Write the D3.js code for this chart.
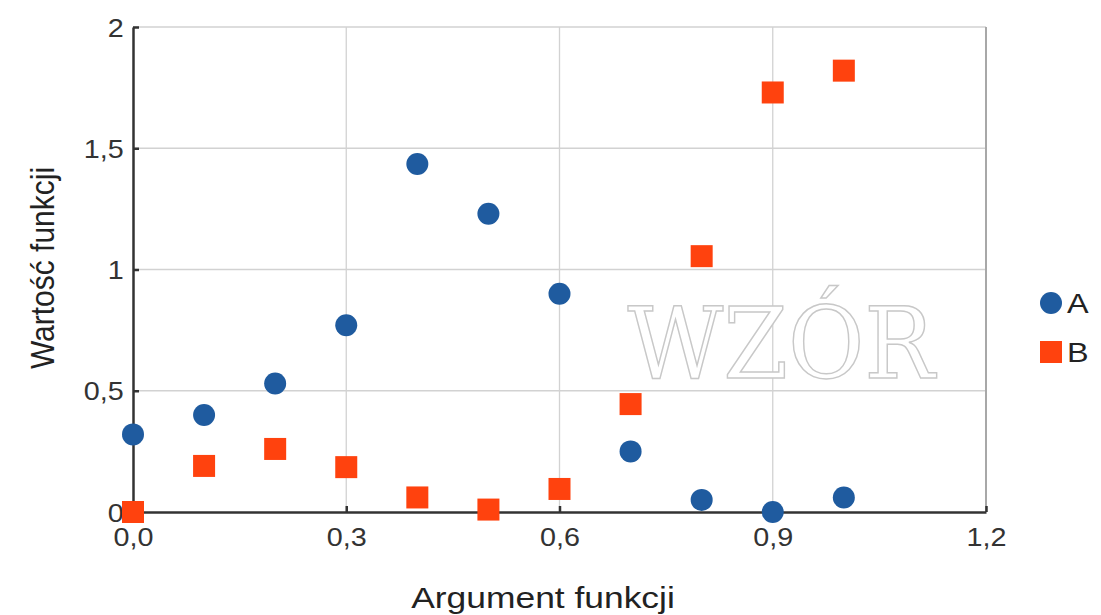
<!DOCTYPE html>
<html>
<meta charset=utf-8>
<head>
<script src="https://d3js.org/d3.v7.min.js"></script>
<style>
  body { margin: 0; background: #fff; }
  text { font-family: "Liberation Sans", Arial, sans-serif; fill: #222; }
</style>
</head>
<body>
<script>

// data
var xs      = [0, 0.1, 0.2, 0.3, 0.4, 0.5, 0.6, 0.7, 0.8, 0.9, 1.0];
var seriesA = [0.32, 0.40, 0.53, 0.77, 1.435, 1.23, 0.90, 0.25, 0.05, 0.0, 0.06];
var seriesB = [0.0, 0.19, 0.26, 0.185, 0.06, 0.01, 0.095, 0.445, 1.055, 1.73, 1.82];
var xTicks  = [0, 0.3, 0.6, 0.9, 1.2];
var yTicks  = [0, 0.5, 1, 1.5, 2];
var names   = ["A", "B"];

var blue = "#1f5b9f", orange = "#ff420e";

var svg = d3.select("body").append("svg")
    .attr("width", 1101).attr("height", 615);

var x = d3.scaleLinear().domain([0, 1.2]).range([133, 986]);
var y = d3.scaleLinear().domain([0, 2]).range([512, 27]);

var pl = d3.formatLocale({decimal: ",", thousands: " ", grouping: [3], currency: ["", ""]});

// grid
svg.append("g").selectAll("line").data(yTicks.slice(1)).join("line")
    .attr("x1", x(0)).attr("x2", x(1.2))
    .attr("y1", d => y(d)).attr("y2", d => y(d))
    .attr("stroke", "#d2d2d2").attr("stroke-width", 1.3);
svg.append("g").selectAll("line").data(xTicks.slice(1)).join("line")
    .attr("x1", d => x(d)).attr("x2", d => x(d))
    .attr("y1", y(0)).attr("y2", y(2))
    .attr("stroke", d => d == 1.2 ? "#a8a8a8" : "#d2d2d2").attr("stroke-width", d => d == 1.2 ? 2 : 1.3);

// watermark
svg.append("text")
    .attr("x", 781).attr("y", 378)
    .attr("text-anchor", "middle")
    .attr("textLength", 307).attr("lengthAdjust", "spacingAndGlyphs")
    .style("font-family", "'DejaVu Serif', 'Liberation Serif', serif")
    .style("font-size", "99px")
    .style("fill", "#fff").style("stroke", "#c8c8c8").style("stroke-width", 1.5)
    .text("WZÓR");

// axes
var xAxis = svg.append("g").attr("transform", "translate(0," + y(0) + ")")
    .call(d3.axisBottom(x).tickValues(xTicks).tickFormat(pl.format(".1f")).tickSizeInner(-6).tickSizeOuter(0).tickPadding(16));
var yAxis = svg.append("g").attr("transform", "translate(" + x(0) + ",0)")
    .call(d3.axisLeft(y).tickValues(yTicks).tickFormat(pl.format("~g")).tickSizeInner(-6).tickSizeOuter(0).tickPadding(16));

[xAxis, yAxis].forEach(function(a) {
  a.select(".domain").attr("stroke", "#333").attr("stroke-width", 2.5);
  a.selectAll(".tick line").attr("stroke", "#333").attr("stroke-width", 2.5);
  a.selectAll(".tick text").style("font-size", "25px").style("fill", "#333");
});
xAxis.selectAll(".tick text").attr("transform", "scale(1.15,1)");
yAxis.selectAll(".tick text").attr("x", -8).attr("dy", "0.36em").attr("transform", "scale(1.15,1)");

// axis titles
svg.append("text")
    .attr("transform", "translate(543,608) scale(1.18,1)")
    .attr("text-anchor", "middle")
    .style("font-size", "30px")
    .text("Argument funkcji");
svg.append("text")
    .attr("transform", "translate(54,268) rotate(-90) scale(1,1.12)")
    .attr("text-anchor", "middle")
    .style("font-size", "30px")
    .text("Wartość funkcji");

// points
svg.append("g").selectAll("circle").data(xs).join("circle")
    .attr("cx", d => x(d)).attr("cy", (d, i) => y(seriesA[i]))
    .attr("r", 11).attr("fill", blue);
svg.append("g").selectAll("rect").data(xs).join("rect")
    .attr("x", d => x(d) - 11).attr("y", (d, i) => y(seriesB[i]) - 11)
    .attr("width", 22).attr("height", 22).attr("fill", orange);

// legend
var leg = svg.append("g");
leg.append("circle").attr("cx", 1051).attr("cy", 303).attr("r", 11).attr("fill", blue);
leg.append("rect").attr("x", 1040).attr("y", 341).attr("width", 22).attr("height", 22).attr("fill", orange);
leg.selectAll("text").data(names).join("text")
    .attr("transform", (d, i) => "translate(1067," + (313 + i * 49) + ") scale(1.2,1)")
    .style("font-size", "27px")
    .text(d => d);

</script>
</body>
</html>
